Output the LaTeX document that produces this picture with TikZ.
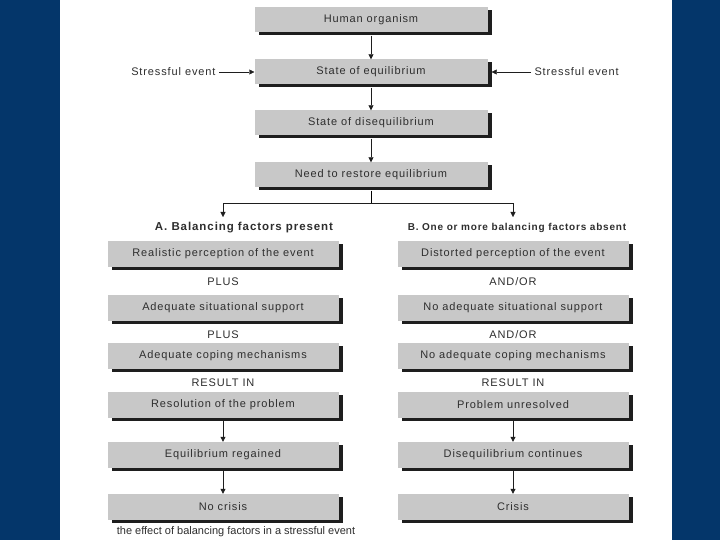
\documentclass[tikz,border=0pt]{standalone}
\usepackage{fontspec}
\setmainfont{Liberation Sans}
\newfontfamily\boxfont[LetterSpace=8]{Liberation Sans}
\usetikzlibrary{arrows.meta,shadows}
\definecolor{sb}{HTML}{04366A}
\definecolor{bx}{HTML}{C8C8C8}
\definecolor{sh}{HTML}{1E1E1E}
\definecolor{tx}{HTML}{2E2E2E}

\begin{document}
\begin{tikzpicture}[x=1pt,y=-1pt,
  fbox/.style={fill=bx,minimum width=233pt,minimum height=25pt,inner sep=0pt,
    font=\boxfont\fontsize{11}{13}\selectfont,text=tx,
    drop shadow={shadow xshift=4pt,shadow yshift=-3pt,fill=sh,opacity=1}},
  cbox/.style={fbox,minimum width=231pt,minimum height=26pt},
  lbl/.style={font=\boxfont\fontsize{11}{13}\selectfont,text=tx},
  head/.style={font=\boxfont\fontsize{11.5}{13}\selectfont\bfseries,text=tx},
  arr/.style={-{Triangle[width=5pt,length=5pt]},draw=sh,thick}]
\useasboundingbox (0,0) rectangle (720,540);
\fill[white] (0,0) rectangle (720,540);
\fill[sb] (0,0) rectangle (60,540);
\fill[sb] (672,0) rectangle (720,540);

\node[fbox] (org) at (371,20) {Human organism};
\node[fbox] (eq) at (371,72) {State of equilibrium};
\node[fbox] (dis) at (371,123) {State of disequilibrium};
\node[fbox] (need) at (371,175) {Need to restore equilibrium};
\node[lbl,anchor=east] (sl) at (219,72) {Stressful event};
\node[lbl,anchor=west] (sr) at (531,72) {Stressful event};

\draw[arr] ([yshift=-3pt]org.south) -- (eq.north);
\draw[arr] ([yshift=-3pt]eq.south) -- (dis.north);
\draw[arr] ([yshift=-3pt]dis.south) -- (need.north);
\draw[arr,thin] (sl) -- (eq.west);
\draw[arr,thin] (sr) -- ([xshift=4pt]eq.east);

\node[head] (ha) at (244,228) {A. Balancing factors present};
\node[head,font=\boxfont\fontsize{10}{12}\selectfont\bfseries] (hb) at (517,228) {B. One or more balancing factors absent};
\coordinate (br) at (371,203);
\draw ([yshift=-3pt]need.south) -- (br);
\draw[arr,thin] (br) -| (223,217);
\draw[arr,thin] (br) -| (513,217);

\node[cbox] (a1) at (223,254) {Realistic perception of the event};
\node[lbl] (p1) at (223,282) {PLUS};
\node[cbox] (a2) at (223,308) {Adequate situational support};
\node[lbl] (p2) at (223,335) {PLUS};
\node[cbox] (a3) at (223,356) {Adequate coping mechanisms};
\node[lbl] (ra) at (223,383) {RESULT IN};
\node[cbox] (a4) at (223,405) {Resolution of the problem};
\node[cbox] (a5) at (223,455) {Equilibrium regained};
\node[cbox] (a6) at (223,507) {No crisis};

\node[cbox] (b1) at (513,254) {Distorted perception of the event};
\node[lbl] (o1) at (513,282) {AND/OR};
\node[cbox] (b2) at (513,308) {No adequate situational support};
\node[lbl] (o2) at (513,335) {AND/OR};
\node[cbox] (b3) at (513,356) {No adequate coping mechanisms};
\node[lbl] (rb) at (513,383) {RESULT IN};
\node[cbox] (b4) at (513,405) {Problem unresolved};
\node[cbox] (b5) at (513,455) {Disequilibrium continues};
\node[cbox] (b6) at (513,507) {Crisis};

\draw[arr] ([yshift=-3pt]a4.south) -- (a5.north);
\draw[arr] ([yshift=-3pt]a5.south) -- (a6.north);
\draw[arr] ([yshift=-3pt]b4.south) -- (b5.north);
\draw[arr] ([yshift=-3pt]b5.south) -- (b6.north);

\node[font=\fontsize{11}{13}\selectfont,text=tx] (cap) at (236,532) {the effect of balancing factors in a stressful event};
\end{tikzpicture}
\end{document}
